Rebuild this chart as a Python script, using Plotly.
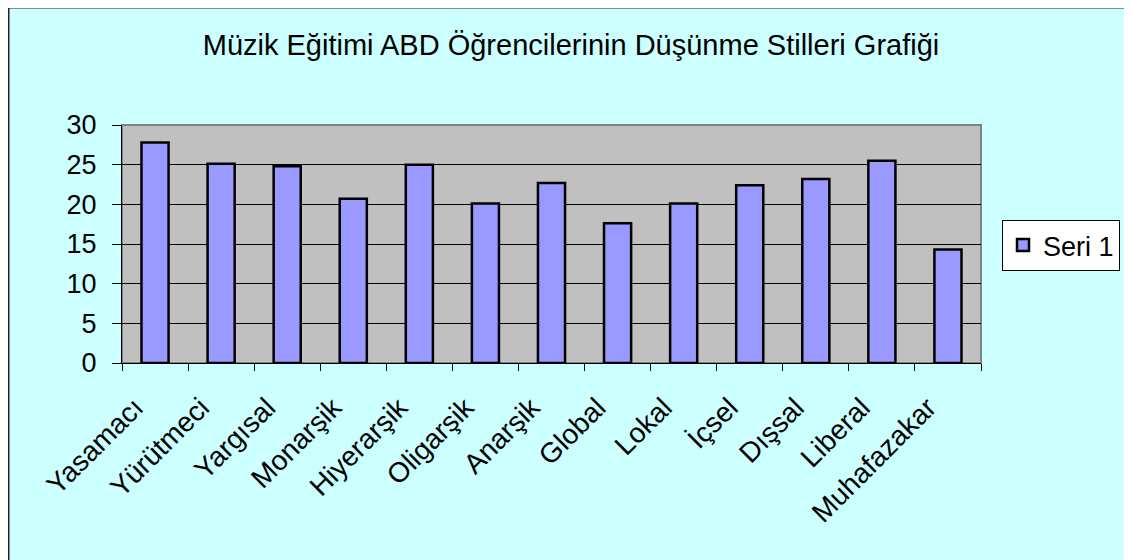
import plotly.graph_objects as go

categories = ["Yasamacı", "Yürütmeci", "Yargısal", "Monarşik", "Hiyerarşik", "Oligarşik",
              "Anarşik", "Global", "Lokal", "İçsel", "Dışsal", "Liberal", "Muhafazakar"]
values = [27.8, 25.1, 24.8, 20.7, 25.0, 20.1, 22.7, 17.6, 20.1, 22.4, 23.2, 25.5, 14.3]
y_ticks = [0, 5, 10, 15, 20, 25, 30]
series_name = "Seri 1"
title_text = "Müzik Eğitimi ABD Öğrencilerinin Düşünme Stilleri Grafiği"

# page body has an 8px margin; work in figure coordinates
OFF = 8
W, H = 1132 - OFF, 560 - OFF
L, R, T, B = 122 - OFF, 981 - OFF, 125 - OFF, 363 - OFF
pw, ph = R - L, B - T

def px(x):
    return (x - L) / pw

def py(y):
    return (B - y) / ph

FONT = "Liberation Sans, Arial, sans-serif"
FS = 27

fig = go.Figure()
fig.add_trace(go.Bar(
    x=categories, y=values, name=series_name,
    marker=dict(color="#9999FF", line=dict(color="black", width=2.5)),
    showlegend=True,
))

shapes = [
    # chart frame
    dict(type="rect", xref="paper", yref="paper", x0=px(0.5), x1=px(W - 1), y0=py(H + 10), y1=py(-0.5),
         fillcolor="rgba(0,0,0,0)", line=dict(color="#222222", width=2), layer="below"),
    # plot border grey
    dict(type="rect", xref="paper", yref="paper", x0=0, x1=1, y0=0, y1=1,
         fillcolor="rgba(0,0,0,0)", line=dict(color="#808080", width=2), layer="below"),
]

fig.update_layout(
    width=W, height=H,
    margin=dict(l=L, r=W - R, t=T, b=H - B, pad=0),
    paper_bgcolor="#CCFFFF",
    plot_bgcolor="#C0C0C0",
    font=dict(family=FONT, color="black", size=FS),
    title=dict(text=title_text, x=(571 - OFF) / W, xanchor="center", y=1 - (45 - OFF) / H, yanchor="middle",
               font=dict(family=FONT, size=29, color="black")),
    bargap=0.59,
    shapes=shapes,
    legend=dict(x=px(1002 - OFF), y=py(220 - OFF), xanchor="left", yanchor="top",
                bgcolor="white", bordercolor="black", borderwidth=1,
                font=dict(family=FONT, size=FS, color="black"),
                itemwidth=30, tracegroupgap=0),
    xaxis=dict(
        type="category", tickangle=-45, tickson="boundaries",
        ticks="outside", ticklen=7, tickcolor="black", tickwidth=1,
        showline=True, linecolor="black", linewidth=1,
        ticklabelshift=-20, ticklabelstandoff=16,
        showgrid=False, tickfont=dict(family=FONT, size=28, color="black"),
    ),
    yaxis=dict(
        range=[0, 30], tickvals=y_ticks, ticktext=[str(v) for v in y_ticks],
        ticks="outside", ticklen=9, tickcolor="black", tickwidth=1,
        showline=True, linecolor="black", linewidth=1,
        showgrid=True, gridcolor="black", gridwidth=1,
        zeroline=False, ticklabelstandoff=10,
        tickfont=dict(family=FONT, size=FS, color="black"),
    ),
)

fig.write_html("out.html")
